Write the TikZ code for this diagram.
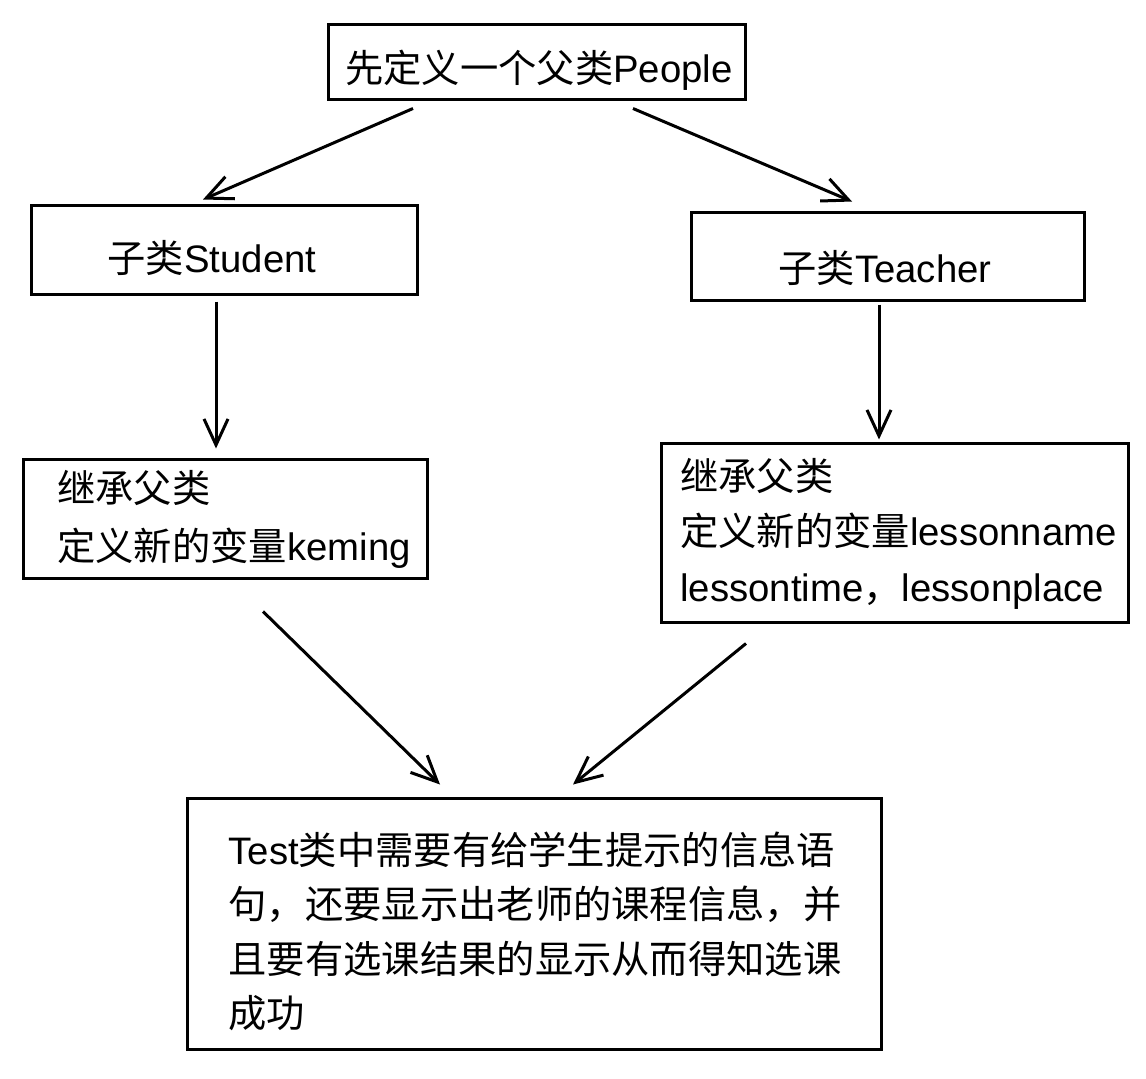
\documentclass[tikz,border=0pt]{standalone}
\usepackage{fontspec}
\setmainfont{Liberation Sans}
\newfontfamily\cjk{Noto Sans CJK SC}
\usetikzlibrary{arrows.meta}
\begin{document}
\begin{tikzpicture}[x=1pt,y=-1pt,
  box/.style={draw, line width=3pt, rectangle, inner sep=0pt},
  txt/.style={inner sep=0pt, align=left, font=\fontsize{38.3}{55.5}\selectfont},
  arr/.style={line width=3pt, -{Straight Barb[length=26pt,width=24pt]}}]
\useasboundingbox[fill=white] (0,0) rectangle (1146,1079);
% boxes
\node[box, minimum width=417pt, minimum height=75pt] (top) at (536.5,61.5) {};
\node[box, minimum width=386pt, minimum height=89pt] (stu) at (224,249.5) {};
\node[box, minimum width=393pt, minimum height=88pt] (tea) at (887.5,256) {};
\node[box, minimum width=404pt, minimum height=119pt] (stuc) at (225,518.5) {};
\node[box, minimum width=467pt, minimum height=179pt] (teac) at (894.5,532.5) {};
\node[box, minimum width=694pt, minimum height=251pt] (test) at (534,923.5) {};
% texts
\node[txt] (topt) at (539,70) {{\cjk 先定义一个父类}People};
\node[txt] (stut) at (212,258) {{\cjk 子类}Student};
\node[txt] (teat) at (885,268) {{\cjk 子类}Teacher};
\node[txt, font=\fontsize{38.3}{58}\selectfont] (stuct) at (234,519)
  {{\cjk 继承父类}\\{\cjk 定义新的变量}keming};
\node[txt] (teact) at (898.5,533.5)
  {{\cjk 继承父类}\\{\cjk 定义新的变量}lessonname\\lessontime{\cjk ，}lessonplace};
\node[txt, font=\fontsize{38.3}{54.3}\selectfont] (testt) at (535,931.5)
  {Test{\cjk 类中需要有给学生提示的信息语}\\{\cjk 句，还要显示出老师的课程信息，并}\\{\cjk 且要有选课结果的显示从而得知选课}\\{\cjk 成功}};
% connectors
\draw[arr] ([shift={(-123.5,8)}]top.south) -- ([shift={(-21,-4)}]stu.north);
\draw[arr] ([shift={(96.5,8)}]top.south) -- ([shift={(-35.5,-9)}]tea.north);
\draw[arr] ([shift={(-8,6)}]stu.south) -- ([shift={(-9,-9)}]stuc.north);
\draw[arr] ([shift={(-8.5,3)}]tea.south) -- ([shift={(-15.5,-2)}]teac.north);
\draw[arr] ([shift={(38,32)}]stuc.south) -- ([shift={(-94,-12)}]test.north);
\draw[arr] ([shift={(-148.5,20)}]teac.south) -- ([shift={(39,-12)}]test.north);
\end{tikzpicture}
\end{document}
